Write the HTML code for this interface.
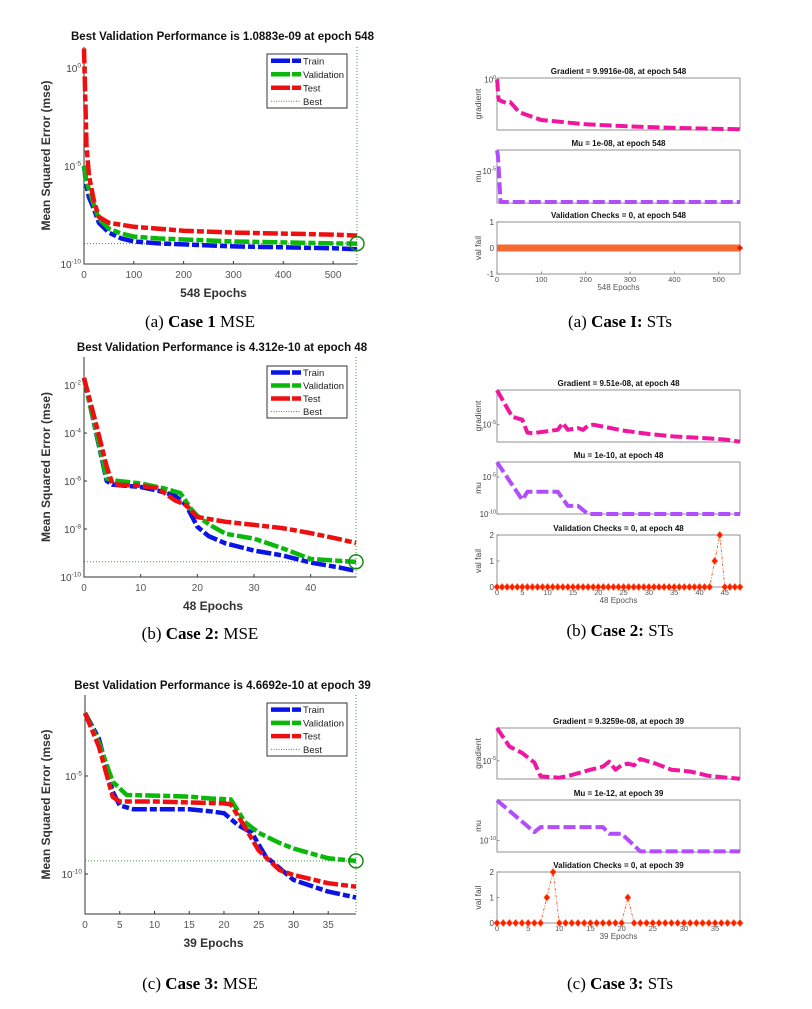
<!DOCTYPE html>
<html><head><meta charset="utf-8">
<style>
html,body{margin:0;padding:0;background:#fff;}
svg{display:block;}
.sans{font-family:"Liberation Sans",Arial,sans-serif;}
.serif{font-family:"Liberation Serif","Times New Roman",serif;}
</style></head>
<body>
<svg id="fig" xmlns="http://www.w3.org/2000/svg" width="812" height="1009" viewBox="0 0 812 1009">
<rect x="0" y="0" width="812" height="1009" fill="#fff"/>
<text class="serif" x="200" y="327" font-size="17" text-anchor="middle">(a) <tspan font-weight="bold">Case 1</tspan> MSE</text>
<text class="serif" x="620" y="327" font-size="17" text-anchor="middle">(a) <tspan font-weight="bold">Case I:</tspan> STs</text>
<text class="serif" x="200" y="639" font-size="17" text-anchor="middle">(b) <tspan font-weight="bold">Case 2:</tspan> MSE</text>
<text class="serif" x="620" y="636" font-size="17" text-anchor="middle">(b) <tspan font-weight="bold">Case 2:</tspan> STs</text>
<text class="serif" x="200" y="989" font-size="17" text-anchor="middle">(c) <tspan font-weight="bold">Case 3:</tspan> MSE</text>
<text class="serif" x="620" y="989" font-size="17" text-anchor="middle">(c) <tspan font-weight="bold">Case 3:</tspan> STs</text>
</svg>
<script>
// ---------- Case 1 MSE (log10 values) ----------
const c1Epochs = [0,5,10,20,30,50,75,100,150,200,300,400,500,548];
const c1Train  = [-5,-6,-6.6,-7.2,-7.9,-8.4,-8.7,-8.85,-8.95,-9.0,-9.1,-9.15,-9.2,-9.25];
const c1Val    = [-5,-5.8,-6.2,-7.0,-7.7,-8.2,-8.45,-8.6,-8.7,-8.75,-8.85,-8.9,-8.95,-8.96];
const c1Test   = [1.0,-4,-5.5,-6.8,-7.6,-7.9,-8.0,-8.1,-8.2,-8.3,-8.4,-8.45,-8.5,-8.55];
const c1XTicks = [0,100,200,300,400,500];
const c1YTicks = [0,-5,-10];
// ---------- Case 2 MSE ----------
const c2TrainEp = [0,4,5,10,13,16,18,20,22,25,30,35,40,45,48];
const c2Train   = [-1.7,-6.0,-6.15,-6.25,-6.4,-6.6,-7.0,-7.9,-8.3,-8.6,-8.9,-9.1,-9.4,-9.6,-9.75];
const c2ValEp   = [0,4,6,10,14,17,19,20,22,25,30,35,40,48];
const c2Val     = [-1.7,-5.9,-6.0,-6.1,-6.3,-6.5,-7.2,-7.45,-7.8,-8.2,-8.4,-8.8,-9.25,-9.37];
const c2TestEp  = [0,2,4,5,6,10,13,16,18,20,25,30,35,40,45,48];
const c2Test    = [-1.7,-3.5,-5.4,-6.1,-6.15,-6.2,-6.3,-6.8,-7.0,-7.5,-7.7,-7.83,-7.96,-8.17,-8.42,-8.58];
const c2XTicks = [0,10,20,30,40];
const c2YTicks = [-2,-4,-6,-8,-10];
// ---------- Case 3 MSE ----------
const c3TrainEp = [0,2,4,5,7,15,18,20,22,24,26,30,35,39];
const c3Train   = [-1.79,-3.1,-5.8,-6.5,-6.7,-6.7,-6.8,-6.9,-7.5,-7.9,-9.1,-10.3,-10.9,-11.2];
const c3ValEp   = [0,2,4,6,10,15,18,21,23,25,28,30,35,39];
const c3Val     = [-1.79,-3.3,-5.3,-5.97,-6.0,-6.05,-6.15,-6.2,-7.35,-7.9,-8.42,-8.7,-9.2,-9.33];
const c3TestEp  = [0,2,4,5,10,20,21,23,25,28,30,35,39];
const c3Test    = [-1.79,-3.5,-6.07,-6.3,-6.3,-6.4,-6.45,-7.6,-8.8,-9.8,-10.05,-10.47,-10.65];
const c3XTicks = [0,5,10,15,20,25,30,35];
const c3YTicks = [-5,-10];
// ---------- Case 1 states ----------
const s1GradEp = [0,1,3,5,20,30,50,100,200,300,400,548];
const s1Grad   = [0,-0.5,-2.6,-2.9,-3.3,-3.2,-4.6,-5.7,-6.3,-6.6,-6.8,-7.0];
const s1MuEp   = [0,2,4,6,8,548];
const s1Mu     = [-3,-3.5,-5,-6.5,-8,-8];
const s1ValSpikeEp = [];
const s1ValSpikeVal = [];
// ---------- Case 2 states ----------
const s2GradEp = [0,3,5,6,7,12,13,14,15,16,17,18,19,25,30,35,40,45,48];
const s2Grad   = [-0.9,-4.06,-4.4,-5.94,-6.0,-5.6,-4.8,-5.6,-5.5,-5.4,-5.6,-5.1,-5.0,-5.7,-6.1,-6.4,-6.55,-6.75,-7.02];
const s2MuEp   = [0,5,6,12,14,16,18,48];
const s2Mu     = [-3,-8.1,-7.0,-7.0,-8.9,-8.9,-10,-10];
const s2ValSpikeEp = [43,44];
const s2ValSpikeVal = [1,2];
// ---------- Case 3 states ----------
const s3GradEp = [0,2,4,6,7,10,12,15,17,18,19,20,21,22,23,25,28,31,34,37,39];
const s3Grad   = [-1.3,-3.4,-4.1,-5.2,-6.75,-6.9,-6.6,-6.0,-5.65,-5.1,-6.0,-5.5,-5.3,-5.5,-4.8,-5.2,-6.0,-6.2,-6.7,-6.9,-7.03];
const s3MuEp   = [0,6,7,12,17,18,20,23,39];
const s3Mu     = [-2.75,-8.5,-7.6,-7.6,-7.6,-8.8,-8.8,-12,-12];
const s3ValSpikeEp = [8,9,21];
const s3ValSpikeVal = [1,2,1];

const NS = "http://www.w3.org/2000/svg";
const svg = document.getElementById('fig');
function mk(tag, attrs, parent){
  const e = document.createElementNS(NS, tag);
  for (const k in attrs) e.setAttribute(k, attrs[k]);
  (parent||svg).appendChild(e);
  return e;
}
function powLabel(parent, x, y, exp, size, anchor){
  const t = mk('text', {x:x, y:y, 'font-size':size, fill:'#444', 'text-anchor':anchor||'end', class:'sans'}, parent);
  t.appendChild(document.createTextNode('10'));
  const s = mk('tspan', {dy:-size*0.45, 'font-size':size*0.65}, t);
  s.textContent = String(exp).replace('-', '-');
  return t;
}
function pts(ep, vals, fx, fy){ return ep.map((e,i)=>fx(e).toFixed(1)+','+fy(vals[i]).toFixed(1)).join(' '); }

function mseChart(o){
  const g = mk('g', {});
  
  
  const fx = e => o.x0 + e/o.xmax*(o.x1-o.x0);
  const fy = v => o.yb - (v-o.ymin)/(o.ymax-o.ymin)*(o.yb-o.yt);
  const title = mk('text', {x:(o.x0+o.x1)/2+2, y:o.titleY, 'font-size':11.5, 'font-weight':'bold', 'text-anchor':'middle', class:'sans', fill:'#111'}, g);
  title.textContent = o.title;
  
  
  // best lines
  const bv = mk('line', {x1:fx(o.bestEp), x2:fx(o.bestEp), y1:o.yt, y2:o.yb, stroke:'#3a9a3a', 'stroke-width':1, 'stroke-dasharray':'1 2'}, g);
  
  
  const bh = mk('line', {x1:o.x0, x2:fx(o.bestEp), y1:fy(o.best), y2:fy(o.best), stroke:'#3a9a3a', 'stroke-width':1, 'stroke-dasharray':'1 2'}, g);
  
  
  // axes
  const ax = mk('path', {d:`M${o.x0},${o.yt}V${o.yb}H${o.x1}`, stroke:'#333', 'stroke-width':1, fill:'none'}, g);
  
  
  o.xticks.forEach(t=>{
    mk('line', {x1:fx(t), x2:fx(t), y1:o.yb, y2:o.yb-3, stroke:'#333'}, g);
    const l = mk('text', {x:fx(t), y:o.yb+14, 'font-size':10, fill:'#555', 'text-anchor':'middle', class:'sans'}, g);
    l.textContent = t;
    
    
  });
  o.yticks.forEach(t=>{
    mk('line', {x1:o.x0, x2:o.x0+3, y1:fy(t), y2:fy(t), stroke:'#333'}, g);
    const l = powLabel(g, o.x0-3, fy(t)+4, t, 10, 'end');
    
    
  });
  const xl = mk('text', {x:(o.x0+o.x1)/2-7, y:o.xlabelY, 'font-size':12, 'font-weight':'bold', 'text-anchor':'middle', fill:'#333', class:'sans'}, g);
  xl.textContent = o.xlabel;
  
  
  const yc = (o.yt+o.yb)/2;
  const yl = mk('text', {x:0, y:0, transform:`translate(50,${yc}) rotate(-90)`, 'font-size':12, 'font-weight':'bold', 'text-anchor':'middle', fill:'#333', class:'sans'}, g);
  yl.textContent = 'Mean Squared Error  (mse)';
  
  
  // series
  const series = [[o.trEp,o.tr,'#0a14e6','train-line'],[o.vaEp,o.va,'#0ab80a','validation-line'],[o.teEp,o.te,'#ee1010','test-line']];
  series.forEach(s=>{
    const p = mk('polyline', {points:pts(s[0],s[1],fx,fy), fill:'none', stroke:s[2], 'stroke-width':4.5, 'stroke-dasharray':'15 3 7 3', 'stroke-linejoin':'round'}, g);
    
    
  });
  const c = mk('circle', {cx:fx(o.bestEp), cy:fy(o.best), r:7, fill:'none', stroke:'#1a8a1a', 'stroke-width':1.5}, g);
  
  
  // legend
  const lg = mk('g', {}, g);
  
  
  mk('rect', {x:267, y:o.lt, width:80, height:o.lb-o.lt, fill:'#fff', stroke:'#333', 'stroke-width':1}, lg);
  const items = [['Train','#0a14e6'],['Validation','#0ab80a'],['Test','#ee1010'],['Best','#3a9a3a']];
  const step = (o.lb-o.lt)/4;
  items.forEach((it,i)=>{
    const yy = o.lt + step*(i+0.5);
    let sample;
    if (i<3) sample = mk('line', {x1:271, x2:301, y1:yy, y2:yy, stroke:it[1], 'stroke-width':4.5, 'stroke-dasharray':'19 2 9'}, lg);
    else sample = mk('line', {x1:271, x2:301, y1:yy, y2:yy, stroke:it[1], 'stroke-width':1, 'stroke-dasharray':'1 1.5'}, lg);
    
    
    const t = mk('text', {x:303, y:yy+3.5, 'font-size':9.5, fill:'#222', class:'sans'}, lg);
    t.textContent = it[0];
    
    
  });
}

function stPanel(o){
  const g = mk('g', {});
  
  
  const x0=497, x1=740;
  const fx = e => x0 + e/o.xmax*(x1-x0);
  const fy = v => o.yb - (v-o.ymin)/(o.ymax-o.ymin)*(o.yb-o.yt);
  const t = mk('text', {x:(x0+x1)/2, y:o.yt-4, 'font-size':8, 'font-weight':'bold', 'text-anchor':'middle', fill:'#111', class:'sans'}, g);
  t.textContent = o.title;
  
  
  const box = mk('rect', {x:x0, y:o.yt, width:x1-x0, height:o.yb-o.yt, fill:'#fff', stroke:'#777', 'stroke-width':0.8}, g);
  
  
  const yl = mk('text', {x:0, y:0, transform:`translate(481,${(o.yt+o.yb)/2}) rotate(-90)`, 'font-size':8.5, 'text-anchor':'middle', fill:'#444', class:'sans'}, g);
  yl.textContent = o.ylabel;
  
  
  o.yticks.forEach(v=>{
    mk('line', {x1:x0, x2:x0+2.5, y1:fy(v), y2:fy(v), stroke:'#777', 'stroke-width':0.8}, g);
    let l;
    if (o.kind==='val'){ l = mk('text', {x:x0-3, y:fy(v)+3, 'font-size':8, fill:'#444', 'text-anchor':'end', class:'sans'}, g); l.textContent = v; }
    else l = powLabel(g, x0-1, fy(v)+3, v, 8, 'end');
    
    
  });
  if (o.xticks){
    o.xticks.forEach(v=>{
      mk('line', {x1:fx(v), x2:fx(v), y1:o.yb, y2:o.yb-2.5, stroke:'#777', 'stroke-width':0.8}, g);
      const l = mk('text', {x:fx(v), y:o.yb+8, 'font-size':7.5, fill:'#555', 'text-anchor':'middle', class:'sans'}, g);
      l.textContent = v;
      
      
    });
    const xl = mk('text', {x:(x0+x1)/2, y:o.yb+16, 'font-size':8, fill:'#555', 'text-anchor':'middle', class:'sans'}, g);
    xl.textContent = o.xlabel;
    
    
  }
  if (o.kind==='line'){
    const p = mk('polyline', {points:pts(o.ep,o.vals,fx,fy), fill:'none', stroke:o.color, 'stroke-width':4, 'stroke-dasharray':'12 4', 'stroke-linejoin':'round'}, g);
    
    
  } else {
    // build full series from epochs count and spike arrays
    const vals = [];
    for (let e=0;e<=o.xmax;e++){ const k=o.spikeEp.indexOf(e); vals.push(k>=0?o.spikeVal[k]:0); }
    const ep = vals.map((_,i)=>i);
    if (o.xmax>100){
      const band = mk('line', {x1:fx(0), x2:fx(o.xmax), y1:fy(0), y2:fy(0), stroke:'#f4692f', 'stroke-width':7}, g);
      
      
      const d = mk('path', {d:`M${fx(o.xmax)-3},${fy(0)} l3,-3 l3,3 l-3,3z`, fill:'#ee1a00'}, g);
      
      
    } else {
      const p = mk('polyline', {points:pts(ep,vals,fx,fy), fill:'none', stroke:'#ff4a1a', 'stroke-width':0.8, 'stroke-dasharray':'3 1.5 1 1.5'}, g);
      
      
      vals.forEach((v,i)=>{
        const cx=fx(i), cy=fy(v);
        const d = mk('path', {d:`M${cx-3},${cy} L${cx},${cy-3.5} L${cx+3},${cy} L${cx},${cy+3.5}Z`, fill:'#ff1a00', stroke:'#ff6a30', 'stroke-width':0.6}, g);
        
        
      });
    }
  }
}

mseChart({name:'case1-mse-chart', x0:84, x1:357, yt:47, yb:264, ymin:-10, ymax:1.07, xmax:548,
  trEp:c1Epochs, tr:c1Train, vaEp:c1Epochs, va:c1Val, teEp:c1Epochs, te:c1Test,
  best:-8.96, bestEp:548, xticks:c1XTicks, yticks:c1YTicks,
  title:'Best Validation Performance is 1.0883e-09 at epoch 548', titleY:40,
  xlabel:'548 Epochs', xlabelY:297, lt:54, lb:108});
mseChart({name:'case2-mse-chart', x0:84, x1:356, yt:357, yb:577, ymin:-10, ymax:-0.83, xmax:48,
  trEp:c2TrainEp, tr:c2Train, vaEp:c2ValEp, va:c2Val, teEp:c2TestEp, te:c2Test,
  best:-9.365, bestEp:48, xticks:c2XTicks, yticks:c2YTicks,
  title:'Best Validation Performance is 4.312e-10 at epoch 48', titleY:351,
  xlabel:'48 Epochs', xlabelY:610, lt:366, lb:418});
mseChart({name:'case3-mse-chart', x0:85, x1:356, yt:695, yb:914, ymin:-12.04, ymax:-0.87, xmax:39,
  trEp:c3TrainEp, tr:c3Train, vaEp:c3ValEp, va:c3Val, teEp:c3TestEp, te:c3Test,
  best:-9.33, bestEp:39, xticks:c3XTicks, yticks:c3YTicks,
  title:'Best Validation Performance is 4.6692e-10 at epoch 39', titleY:689,
  xlabel:'39 Epochs', xlabelY:947, lt:703, lb:756});

// Case 1 states
stPanel({name:'case1-gradient-panel', kind:'line', yt:78, yb:130, ymin:-7.1, ymax:0.2, xmax:548, ep:s1GradEp, vals:s1Grad, color:'#f0169f', lineName:'gradient-line', title:'Gradient = 9.9916e-08, at epoch 548', ylabel:'gradient', yticks:[0]});
stPanel({name:'case1-mu-panel', kind:'line', yt:150, yb:203, ymin:-8.1, ymax:-2.96, xmax:548, ep:s1MuEp, vals:s1Mu, color:'#b14dff', lineName:'mu-line', title:'Mu = 1e-08, at epoch 548', ylabel:'mu', yticks:[-5]});
stPanel({name:'case1-valfail-panel', kind:'val', yt:222, yb:274, ymin:-1, ymax:1, xmax:548, spikeEp:s1ValSpikeEp, spikeVal:s1ValSpikeVal, title:'Validation Checks = 0, at epoch 548', ylabel:'val fail', yticks:[-1,0,1], xticks:[0,100,200,300,400,500], xlabel:'548 Epochs'});
// Case 2 states
stPanel({name:'case2-gradient-panel', kind:'line', yt:390, yb:442, ymin:-7.05, ymax:-0.88, xmax:48, ep:s2GradEp, vals:s2Grad, color:'#f0169f', lineName:'gradient-line', title:'Gradient = 9.51e-08, at epoch 48', ylabel:'gradient', yticks:[-5]});
stPanel({name:'case2-mu-panel', kind:'line', yt:462, yb:514, ymin:-10, ymax:-2.97, xmax:48, ep:s2MuEp, vals:s2Mu, color:'#b14dff', lineName:'mu-line', title:'Mu = 1e-10, at epoch 48', ylabel:'mu', yticks:[-5,-10]});
stPanel({name:'case2-valfail-panel', kind:'val', yt:535, yb:587, ymin:0, ymax:2, xmax:48, spikeEp:s2ValSpikeEp, spikeVal:s2ValSpikeVal, title:'Validation Checks = 0, at epoch 48', ylabel:'val fail', yticks:[0,1,2], xticks:[0,5,10,15,20,25,30,35,40,45], xlabel:'48 Epochs'});
// Case 3 states
stPanel({name:'case3-gradient-panel', kind:'line', yt:728, yb:779, ymin:-7.05, ymax:-1.3, xmax:39, ep:s3GradEp, vals:s3Grad, color:'#f0169f', lineName:'gradient-line', title:'Gradient = 9.3259e-08, at epoch 39', ylabel:'gradient', yticks:[-5]});
stPanel({name:'case3-mu-panel', kind:'line', yt:800, yb:852, ymin:-12.1, ymax:-2.7, xmax:39, ep:s3MuEp, vals:s3Mu, color:'#b14dff', lineName:'mu-line', title:'Mu = 1e-12, at epoch 39', ylabel:'mu', yticks:[-10]});
stPanel({name:'case3-valfail-panel', kind:'val', yt:872, yb:923, ymin:0, ymax:2, xmax:39, spikeEp:s3ValSpikeEp, spikeVal:s3ValSpikeVal, title:'Validation Checks = 0, at epoch 39', ylabel:'val fail', yticks:[0,1,2], xticks:[0,5,10,15,20,25,30,35], xlabel:'39 Epochs'});
</script>
</body></html>
